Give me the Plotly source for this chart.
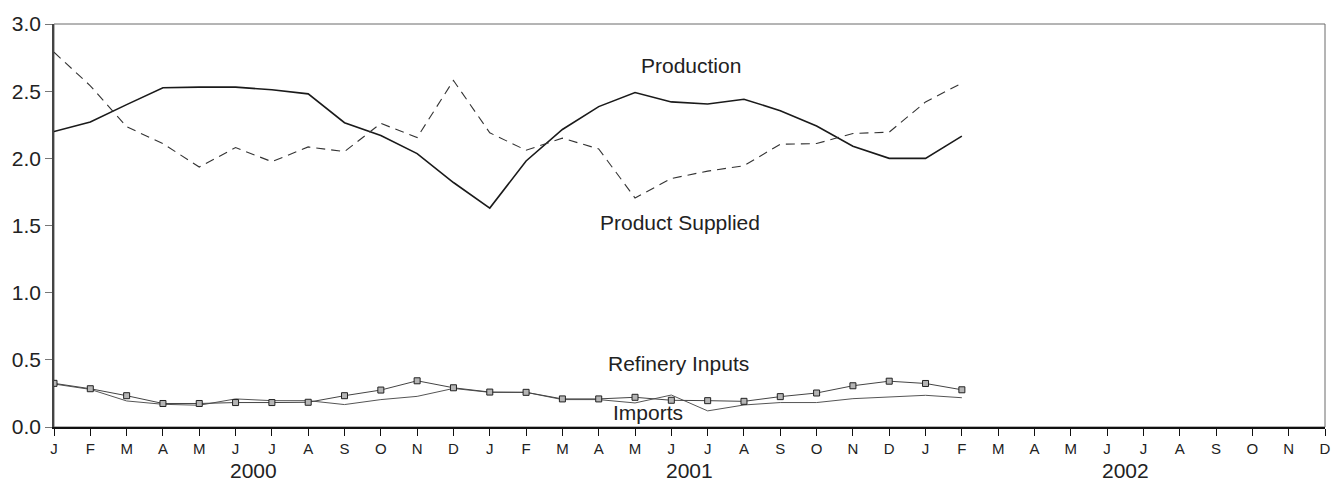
import plotly.graph_objects as go

# Monthly periods, Jan 2000 .. Dec 2002 (axis span); data runs Jan 2000 .. Feb 2002
month_letters = ["J", "F", "M", "A", "M", "J", "J", "A", "S", "O", "N", "D"]
years = ["2000", "2001", "2002"]

production = [2.20, 2.27, 2.40, 2.525, 2.53, 2.53, 2.51, 2.48, 2.265, 2.17, 2.035, 1.82,
              1.63, 1.98, 2.215, 2.385, 2.49, 2.42, 2.405, 2.44, 2.355, 2.24, 2.09, 2.00,
              2.00, 2.165]
product_supplied = [2.79, 2.54, 2.235, 2.11, 1.935, 2.08, 1.975, 2.085, 2.05, 2.26, 2.155, 2.58,
                    2.19, 2.06, 2.15, 2.07, 1.705, 1.85, 1.905, 1.945, 2.105, 2.11, 2.185, 2.195,
                    2.42, 2.56]
refinery_inputs = [0.325, 0.285, 0.233, 0.175, 0.175, 0.182, 0.182, 0.184, 0.233, 0.275, 0.344, 0.292,
                   0.26, 0.258, 0.209, 0.209, 0.221, 0.199, 0.196, 0.191, 0.226, 0.253, 0.307, 0.341,
                   0.324, 0.277]
imports = [0.32, 0.28, 0.194, 0.169, 0.162, 0.209, 0.196, 0.196, 0.167, 0.204, 0.228, 0.287,
           0.258, 0.258, 0.204, 0.204, 0.179, 0.238, 0.12, 0.164, 0.182, 0.182, 0.211, 0.221,
           0.236, 0.218]

n_axis = len(years) * 12
tick_pos = list(range(n_axis))
tick_text = month_letters * len(years)
x = list(range(len(production)))

FONT = "Liberation Sans, Arial, Helvetica, sans-serif"
INK = "#222222"

fig = go.Figure()

fig.add_trace(go.Scatter(x=x, y=production, mode="lines", name="Production",
                         line=dict(color="#1a1a1a", width=1.6)))
fig.add_trace(go.Scatter(x=x, y=product_supplied, mode="lines", name="Product Supplied",
                         line=dict(color="#333333", width=1.1, dash="9px,6px")))
fig.add_trace(go.Scatter(x=x, y=imports, mode="lines", name="Imports",
                         line=dict(color="#555555", width=1)))
fig.add_trace(go.Scatter(x=x, y=refinery_inputs, mode="lines+markers", name="Refinery Inputs",
                         line=dict(color="#444444", width=1),
                         marker=dict(symbol="square", size=6, color="#b5b5b5",
                                     line=dict(color="#222222", width=1))))

# series labels placed beside the curves
labels = [
    ("Production", 17.55 / 35, 2.69),
    ("Product Supplied", 17.25 / 35, 1.52),
    ("Refinery Inputs", 17.2 / 35, 0.47),
    ("Imports", 16.35 / 35, 0.11),
]
for text, xp, yv in labels:
    fig.add_annotation(x=xp, xref="paper", y=yv, yref="y", text=text, showarrow=False,
                       font=dict(family=FONT, size=21, color=INK))

# year labels under the month ticks
for k, yr in enumerate(years):
    fig.add_annotation(x=(k * 12 + 5.5), xref="x", y=-0.108, yref="paper", yanchor="middle",
                       text=yr, showarrow=False, font=dict(family=FONT, size=21, color=INK))

# plot frame (top and right edges)
fig.add_shape(type="rect", xref="paper", yref="paper", x0=0, x1=1, y0=0, y1=1,
              line=dict(color="#6a6a6a", width=1), layer="below")

fig.update_layout(
    width=1343, height=483,
    margin=dict(l=53, r=15, t=19, b=56),
    paper_bgcolor="white", plot_bgcolor="white",
    showlegend=False,
    font=dict(family=FONT, color=INK),
    xaxis=dict(range=[0, n_axis - 1], tickmode="array", tickvals=tick_pos, ticktext=tick_text,
               showgrid=False, zeroline=False, showline=True, linecolor="#111111", linewidth=1.5,
               ticks="outside", ticklen=7, tickcolor="#111111", tickwidth=1.2,
               tickfont=dict(family=FONT, size=15, color=INK)),
    yaxis=dict(range=[0, 3], tickmode="array", tickvals=[0, 0.5, 1, 1.5, 2, 2.5, 3],
               ticktext=["0.0", "0.5", "1.0", "1.5", "2.0", "2.5", "3.0"],
               showgrid=False, zeroline=False, showline=True, linecolor="#444444", linewidth=1.5,
               ticks="outside", ticklen=7, tickcolor="#777777", tickwidth=1,
               tickfont=dict(family=FONT, size=21, color=INK)),
)

fig.write_html("out.html")
